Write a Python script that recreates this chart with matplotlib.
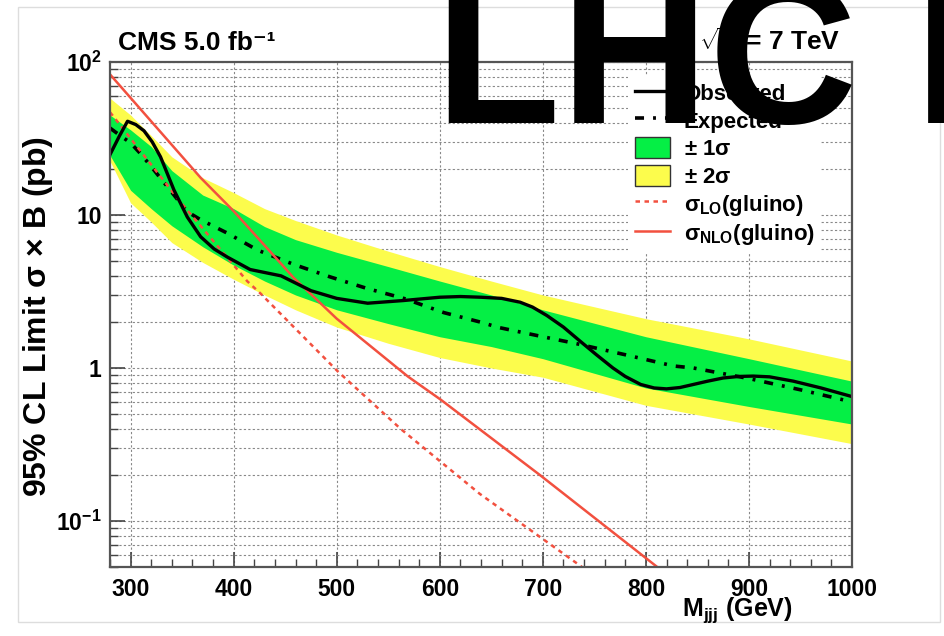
import numpy as np
import matplotlib
matplotlib.use('Agg')
import matplotlib.pyplot as plt
from matplotlib.lines import Line2D
from matplotlib.patches import Patch, Rectangle
from matplotlib.ticker import LogLocator, MultipleLocator, NullFormatter

plt.rcParams['font.family'] = ['Liberation Sans', 'DejaVu Sans']
plt.rcParams['font.weight'] = 'bold'
plt.rcParams['mathtext.fontset'] = 'custom'
plt.rcParams['mathtext.rm'] = 'Liberation Sans:bold'
plt.rcParams['mathtext.it'] = 'Liberation Sans:bold'
plt.rcParams['mathtext.bf'] = 'Liberation Sans:bold'

# observed limit
obs_mass = [280, 289, 297, 305, 313, 321, 329, 342, 355, 368, 381, 394, 416, 446, 475, 500,
            530, 565, 600, 620, 640, 660, 678, 690, 704, 720, 736, 752, 768, 780, 795, 808,
            820, 833, 846, 860, 875, 890, 904, 920, 943, 970, 1000]
obs = [24.8, 32.7, 41, 39, 35.5, 30, 24, 14.6, 9.7, 7.2, 6.0, 5.3, 4.4, 4.0, 3.2, 2.85,
       2.65, 2.76, 2.9, 2.93, 2.9, 2.85, 2.69, 2.5, 2.2, 1.85, 1.5, 1.22, 1.0, 0.88, 0.78, 0.74,
       0.73, 0.745, 0.78, 0.82, 0.86, 0.88, 0.885, 0.875, 0.82, 0.74, 0.65]

# expected limit
exp_mass = [280, 290, 300, 310, 320, 336, 355, 368, 394, 423, 458, 494, 530, 565, 604, 640,
            657, 700, 733, 780, 827, 846, 901, 950, 1000]
exp = [37, 33, 29.6, 25, 20.7, 15.2, 10.5, 9.3, 7.6, 5.9, 4.76, 3.93, 3.3, 2.85, 2.3, 1.99,
       1.84, 1.6, 1.44, 1.22, 1.03, 1.0, 0.85, 0.72, 0.6]

# bands
band_mass = [280, 300, 320, 340, 370, 400, 430, 460, 500, 550, 600, 650, 700, 800, 900, 1000]
green_hi = [45, 36, 28, 19.5, 13.5, 11, 8.4, 6.9, 5.7, 4.6, 3.7, 3.0, 2.4, 1.6, 1.15, 0.82]
green_lo = [24.5, 14.5, 11, 8.5, 6.2, 4.7, 3.7, 3.0, 2.4, 1.95, 1.6, 1.38, 1.15, 0.74, 0.56, 0.43]
yellow_hi = [58, 45, 33, 24, 17.5, 14, 11, 9.2, 7.4, 5.8, 4.6, 3.7, 3.0, 2.1, 1.55, 1.11]
yellow_lo = [22.5, 12, 9, 6.6, 4.9, 3.8, 3.0, 2.4, 1.85, 1.45, 1.17, 1.0, 0.87, 0.57, 0.43, 0.32]

# theory
lo_mass = [280, 349, 413, 426, 501, 562, 639, 738, 780]
lo = [47, 12, 3.7, 3.07, 0.95, 0.4, 0.15, 0.05, 0.032]
nlo_mass = [280, 368, 400, 446, 458, 500, 569, 601, 697, 811, 840]
nlo = [83, 17.5, 10.6, 4.8, 3.9, 2.1, 0.88, 0.62, 0.2, 0.05, 0.04]

green = '#05ef45'
yellow = '#fcfc4c'
red = '#f2503f'
dashdot = (0, (2.5, 2.5, 0.8, 2.5))

fig = plt.figure(figsize=(9.44, 6.36), dpi=100)
fig.patches.append(Rectangle((18/944, 1-622/636), 922/944, 615/636, transform=fig.transFigure,
                             fill=False, edgecolor='#dddddd', lw=1))
ax = fig.add_axes([110/944, 1-567/636, 742/944, 505/636])
ax.set_axisbelow(True)

ax.fill_between(band_mass, yellow_lo, yellow_hi, color=yellow, lw=0)
ax.fill_between(band_mass, green_lo, green_hi, color=green, lw=0)
ax.plot(exp_mass, exp, color='black', lw=2.6, linestyle=dashdot)
ax.plot(lo_mass, lo, color=red, lw=1.8, linestyle=(0, (1.8, 1.8)))
ax.plot(nlo_mass, nlo, color=red, lw=1.8)
ax.plot(obs_mass, obs, color='black', lw=2.4)

ax.set_yscale('log')
ax.set_xlim(280, 1000)
ax.set_ylim(0.05, 100)

ax.xaxis.set_major_locator(MultipleLocator(100))
ax.xaxis.set_minor_locator(MultipleLocator(20))
ax.set_yticks([0.1, 1, 10, 100])
ax.set_yticklabels(['10$^{-1}$', '1', '10', '10$^{2}$'])
ax.yaxis.set_minor_locator(LogLocator(base=10, subs=np.arange(2, 10)))
ax.yaxis.set_minor_formatter(NullFormatter())

ax.grid(True, which='major', axis='x', color='#888888', lw=0.8, linestyle=(0, (2, 2)))
ax.grid(True, which='both', axis='y', color='#888888', lw=0.8, linestyle=(0, (2, 2)))

ax.tick_params(which='both', direction='in', top=False, right=False, labelsize=16.5)
ax.tick_params(which='major', length=11, width=1.2, color='#444444')
ax.tick_params(which='minor', length=6, width=1.0, color='#444444')
ax.tick_params(axis='x', pad=8)
ax.tick_params(axis='y', pad=6)
for lab in ax.get_xticklabels() + ax.get_yticklabels():
    lab.set_fontweight('bold')
for s in ax.spines.values():
    s.set_color('#555555')
    s.set_linewidth(1.6)

fig.text(38/944, 1-316/636, r'95% CL Limit $\sigma$ $\times$ B (pb)', rotation=90,
         ha='center', va='center', fontsize=23, fontweight='bold')
fig.text(793/944, 1-616/636, r'M$_{\rm jjj}$ (GeV)', ha='right', va='baseline',
         fontsize=18, fontweight='bold')
fig.text(118/944, 1-50/636, 'CMS 5.0 fb⁻¹', ha='left', va='baseline',
         fontsize=19, fontweight='bold')
fig.text(840/944, 1-50/636, r'$\sqrt{\rm s}$ = 7 TeV', ha='right', va='baseline',
         fontsize=19, fontweight='bold')

handles = [Line2D([], [], color='black', lw=2.4),
           Line2D([], [], color='black', lw=2.6, linestyle=dashdot),
           Patch(facecolor=green, edgecolor='#333333', lw=1),
           Patch(facecolor=yellow, edgecolor='#333333', lw=1),
           Line2D([], [], color=red, lw=1.8, linestyle=(0, (1.8, 1.8))),
           Line2D([], [], color=red, lw=1.8)]
labels = ['Observed', 'Expected', r'$\pm$ 1$\sigma$', r'$\pm$ 2$\sigma$',
          r'$\sigma_{\rm LO}$(gluino)', r'$\sigma_{\rm NLO}$(gluino)']
leg = ax.legend(handles, labels, loc='upper left', bbox_to_anchor=(628/944, 1-75/636),
                bbox_transform=fig.transFigure, frameon=True, fancybox=False,
                edgecolor='none', facecolor='white', framealpha=1, fontsize=16,
                handlelength=1.6, handleheight=1.1, handletextpad=0.6,
                labelspacing=0.2, borderpad=0.3, borderaxespad=0)
for t in leg.get_texts():
    t.set_fontweight('bold')

fig.text(435/944, 1-123/636, 'LHC I', ha='left', va='baseline', fontsize=148,
         family='Liberation Sans', fontweight='bold', color='black', zorder=10)

fig.savefig('out.png', dpi=100)
